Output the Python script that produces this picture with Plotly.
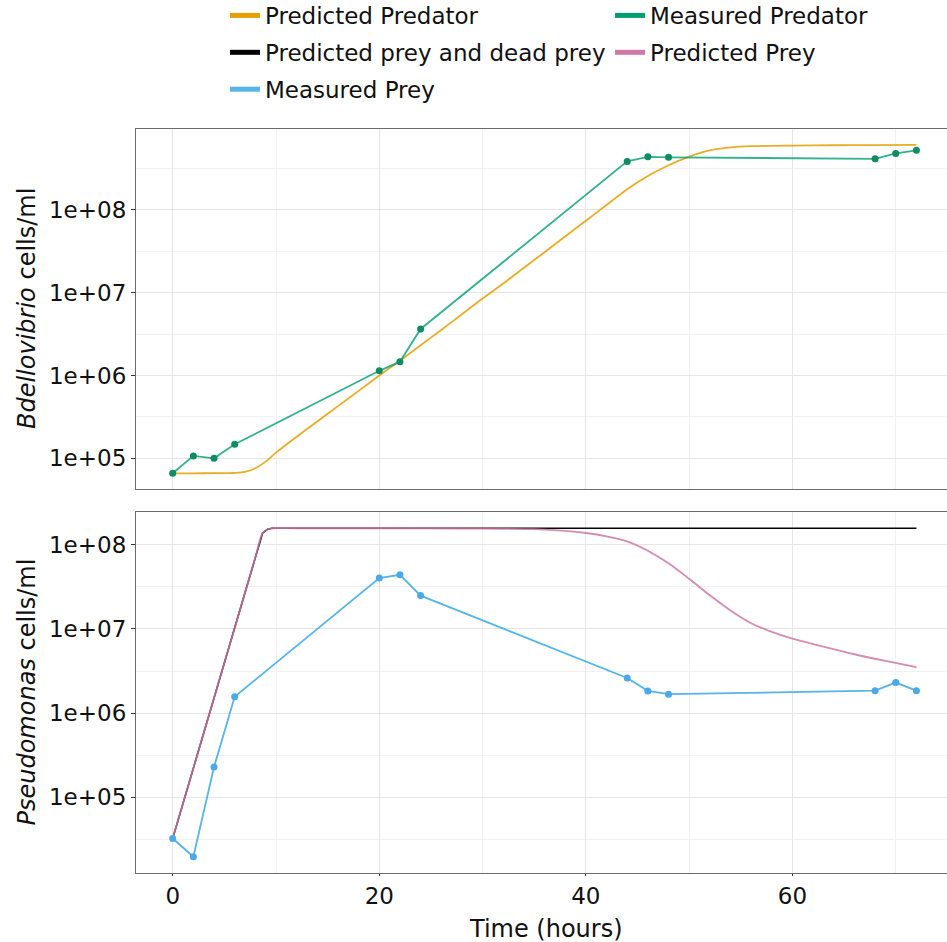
import plotly.graph_objects as go

# ---- measured data (hours, cells/ml) ----
meas_time = [0, 2, 4, 6, 20, 22, 24, 44, 46, 48, 68, 70, 72]
meas_predator = [6.6e4, 1.07e5, 1.0e5, 1.48e5, 1.14e6, 1.47e6, 3.65e6,
                 3.86e8, 4.39e8, 4.32e8, 4.15e8, 4.82e8, 5.25e8]
meas_prey = [3.25e4, 1.97e4, 2.29e5, 1.57e6, 4.02e7, 4.40e7, 2.49e7,
             2.62e6, 1.84e6, 1.68e6, 1.85e6, 2.31e6, 1.85e6]

# ---- model output ----
model_pred_time = [0, 2, 4, 6, 7, 8, 9, 10, 12, 14, 16, 18, 20, 22, 24, 26, 28,
                   30, 32, 34, 36, 38, 40, 42, 44, 46, 48, 50, 52, 54, 56, 60,
                   64, 68, 72]
model_predator = [6.59e4, 6.59e4, 6.61e4, 6.65e4, 6.84e4, 7.59e4, 9.12e4,
                  1.17e5, 1.82e5, 2.79e5, 4.27e5, 6.53e5, 1.00e6, 1.51e6,
                  2.32e6, 3.55e6, 5.50e6, 8.51e6, 1.29e7, 2.00e7, 3.09e7,
                  4.79e7, 7.41e7, 1.15e8, 1.78e8, 2.57e8, 3.47e8, 4.42e8,
                  5.25e8, 5.69e8, 5.89e8, 6.00e8, 6.05e8, 6.08e8, 6.10e8]

model_prey_time = [0, 2, 4, 6, 8, 8.7, 9.2, 9.6, 12, 20, 28, 32, 35, 38, 40,
                   42, 44, 46, 48, 50, 52, 54, 56, 58, 60, 63, 66, 69, 72]
model_prey = [3.25e4, 2.22e5, 1.51e6, 1.03e7, 7.05e7, 1.38e8, 1.53e8, 1.57e8,
              1.57e8, 1.57e8, 1.56e8, 1.55e8, 1.53e8, 1.46e8, 1.38e8, 1.26e8,
              1.10e8, 8.51e7, 6.03e7, 3.94e7, 2.51e7, 1.66e7, 1.17e7, 9.23e6,
              7.67e6, 6.17e6, 5.01e6, 4.17e6, 3.52e6]

model_total_time = [0, 2, 4, 6, 8, 8.7, 9.2, 9.6, 72]
model_prey_dead = [3.25e4, 2.22e5, 1.51e6, 1.03e7, 7.05e7, 1.38e8, 1.53e8,
                   1.57e8, 1.57e8]

x_ticks = [0, 20, 40, 60]
y_ticks = [1e5, 1e6, 1e7, 1e8]
y_ticktext = ["1e+05", "1e+06", "1e+07", "1e+08"]

ORANGE = "#E69F00"
GREEN = "#009E73"
BLUE = "#56B4E9"
PINK = "#CC79A7"
BLACK = "#000000"
FONT = "DejaVu Sans"

fig = go.Figure()

# top panel: predator
fig.add_trace(go.Scatter(x=model_pred_time, y=model_predator, mode="lines",
                         line=dict(color=ORANGE, width=1.8, shape="spline", smoothing=0.8),
                         opacity=0.85, xaxis="x2", yaxis="y2", showlegend=False))
fig.add_trace(go.Scatter(x=meas_time, y=meas_predator, mode="lines+markers",
                         line=dict(color="rgba(0,158,115,0.8)", width=1.8),
                         marker=dict(color="#0f8c62", size=7),
                         xaxis="x2", yaxis="y2", showlegend=False))

# bottom panel: prey
fig.add_trace(go.Scatter(x=model_total_time, y=model_prey_dead, mode="lines",
                         line=dict(color=BLACK, width=1.6),
                         xaxis="x", yaxis="y", showlegend=False))
fig.add_trace(go.Scatter(x=model_prey_time, y=model_prey, mode="lines",
                         line=dict(color=PINK, width=1.8, shape="spline", smoothing=0.8),
                         opacity=0.85, xaxis="x", yaxis="y", showlegend=False))
fig.add_trace(go.Scatter(x=meas_time, y=meas_prey, mode="lines+markers",
                         line=dict(color=BLUE, width=1.8),
                         marker=dict(color="#4aa9e6", size=7),
                         xaxis="x", yaxis="y", showlegend=False))

# legend keys
legend_items = [
    ("Predicted Predator", ORANGE, "legend"),
    ("Predicted prey and dead prey", BLACK, "legend"),
    ("Measured Prey", BLUE, "legend"),
    ("Measured Predator", GREEN, "legend2"),
    ("Predicted Prey", PINK, "legend2"),
]
for i, (name, color, leg) in enumerate(legend_items):
    fig.add_trace(go.Scatter(x=[None], y=[None], mode="lines", name=name,
                             line=dict(color=color, width=5),
                             legend=leg, legendgroup=f"g{i}",
                             xaxis="x", yaxis="y"))

grid_major = "#e6e6e6"
grid_minor = "#f1f1f1"
line_col = "#6b6b6b"

x_common = dict(range=[-3.553, 74.96], tickvals=x_ticks, showgrid=True,
                gridcolor=grid_major, gridwidth=1.4, zeroline=False,
                showline=True, mirror=True, linecolor=line_col, linewidth=1.2,
                minor=dict(tickvals=[10, 30, 50, 70], showgrid=True,
                           gridcolor=grid_minor, gridwidth=1.0))
y_common = dict(type="log", tickvals=y_ticks, ticktext=y_ticktext,
                showgrid=True, gridcolor=grid_major, gridwidth=1.4,
                zeroline=False, showline=True, mirror=False,
                linecolor=line_col, linewidth=1.2,
                ticks="outside", ticklen=4, tickcolor="#333333",
                tickfont=dict(family=FONT, size=23, color="#111111"),
                minor=dict(tickvals=[10 ** 4.5, 10 ** 5.5, 10 ** 6.5, 10 ** 7.5, 10 ** 8.5],
                           showgrid=True, gridcolor=grid_minor, gridwidth=1.0))

fig.update_layout(
    width=947, height=942,
    margin=dict(l=136, r=0, t=129, b=69, autoexpand=False),
    paper_bgcolor="white", plot_bgcolor="white",
    font=dict(family=FONT, size=23, color="#111111"),
    xaxis=dict(**x_common, anchor="y", domain=[0, 1], ticks="outside", ticklen=2,
               tickcolor="#333333",
               tickfont=dict(family=FONT, size=23, color="#111111")),
    xaxis2=dict(**x_common, anchor="y2", domain=[0, 1], matches="x",
                showticklabels=False),
    yaxis=dict(**y_common, domain=[0, 0.4852], range=[4.102, 8.389]),
    yaxis2=dict(**y_common, domain=[0.5161, 1], range=[4.629, 8.978]),
    legend=dict(x=0.1097, xanchor="left", y=1.1815, yanchor="top",
                orientation="v", tracegroupgap=4, traceorder="grouped",
                font=dict(family=FONT, size=23, color="#111111"),
                bgcolor="rgba(0,0,0,0)"),
    legend2=dict(x=0.5845, xanchor="left", y=1.1815, yanchor="top",
                 orientation="v", tracegroupgap=4, traceorder="grouped",
                 font=dict(family=FONT, size=23, color="#111111"),
                 bgcolor="rgba(0,0,0,0)"),
    annotations=[
        dict(text="<i>Bdellovibrio</i> cells/ml", textangle=-90,
             xref="paper", yref="paper", x=0, xshift=-109, xanchor="center",
             y=(0.5161 + 1) / 2, yanchor="middle", showarrow=False,
             font=dict(family=FONT, size=24, color="#111111")),
        dict(text="<i>Pseudomonas</i> cells/ml", textangle=-90,
             xref="paper", yref="paper", x=0, xshift=-109, xanchor="center",
             y=0.4852 / 2, yanchor="middle", showarrow=False,
             font=dict(family=FONT, size=24, color="#111111")),
        dict(text="Time (hours)", xref="paper", yref="paper",
             x=0.505, xanchor="center", y=-0.0753, yanchor="middle",
             showarrow=False, font=dict(family=FONT, size=24, color="#111111")),
    ],
)

fig.write_html("out.html")
